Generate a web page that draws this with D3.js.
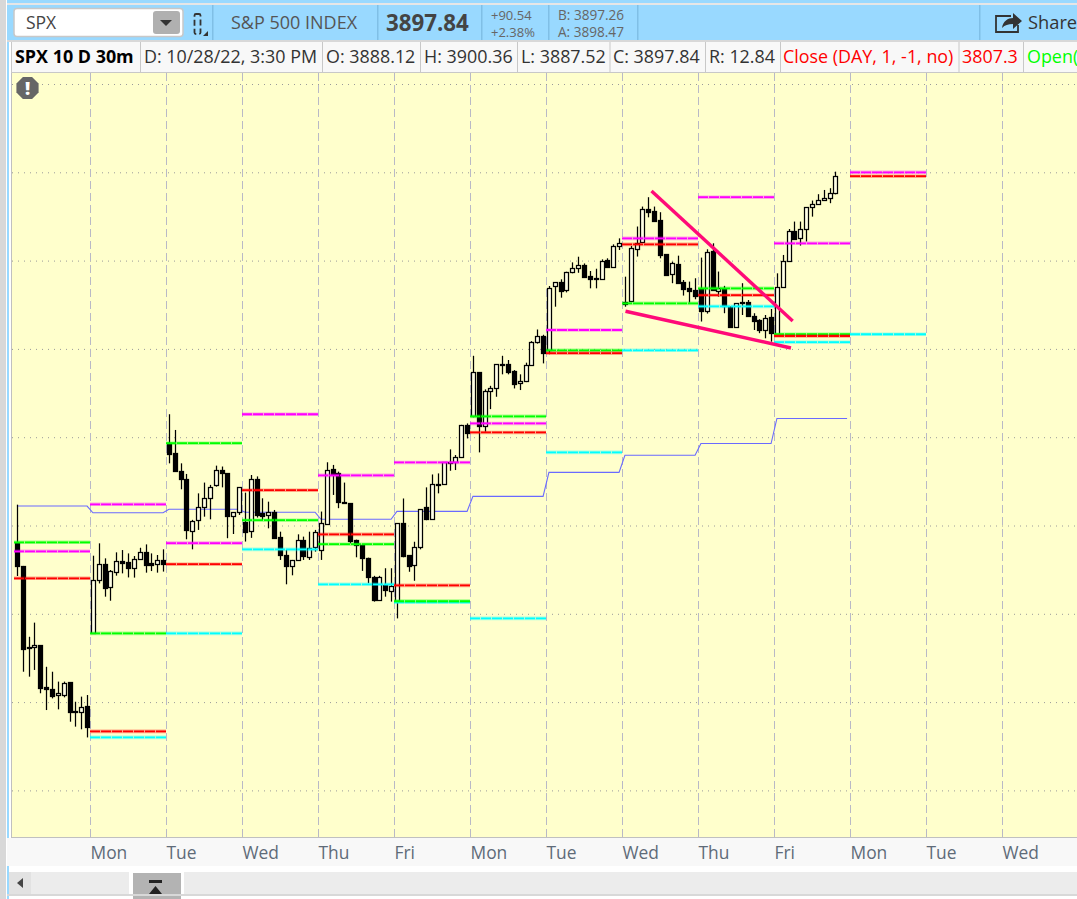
<!DOCTYPE html>
<html><head><meta charset="utf-8">
<script src="https://cdn.jsdelivr.net/npm/d3@7"></script>
<style>
html,body{margin:0;padding:0;background:#fff;overflow:hidden}
svg{display:block}
text{font-family:"Open Sans",sans-serif}
</style></head><body><svg id="c" width="1077" height="899"></svg>
<script>
// ---- data (prices) ----
const opens=[3689.9,3677.1,3631,3631,3632.1,3608.4,3607.2,3603.8,3604.2,3611.2,3595,3594.8,3597.6,
3639.3,3668.8,3678,3665,3673.9,3679.9,3679.3,3675.6,3680.7,3684.8,3678.8,3678.4,3680.5,
3746.6,3740.9,3730.9,3726.2,3697.1,3703,3710.3,3715.4,3722.6,3731.3,3729.6,3705,3707.5,
3702.2,3696.5,3726.2,3707.3,3706.4,3707.9,3693.3,3683.1,3676.9,3680.3,3691.6,3682.4,3687.5,
3686.2,3700.7,3731.8,3729.6,3713.2,3712.6,3691.6,3689,3681.4,3671,3658.2,3666.2,3663.1,
3656.8,3701.4,3683.3,3677.2,3687.6,3710.2,3703.6,3723.5,3723.1,3736.1,3735.9,3738.4,3756.9,
3761.8,3786.7,3755.9,3775.9,3777.6,3791.4,3791.4,3787.4,3780.3,3781.6,3790.7,3803.7,3807.3,
3799.3,3835.2,3837.7,3832.9,3843.1,3845.4,3847.5,3841.1,3839.9,3839.9,3850.3,3846.2,3857.9,
3825.5,3826.8,3857,3860.2,3879.1,3877.9,3872.8,3853.6,3842.1,3848.1,3837.9,3834.5,3833.4,
3834,3821.7,3855.5,3832.6,3833.8,3824,3812.2,3826.4,3826.4,3818.7,3816.2,3811.1,3817.9,
3808.3,3835.3,3850,3866.8,3862.5,3867.7,3880,3881.7,3884.2,3885.1,3888.12];
const highs=[3711.8,3677.1,3637,3645,3632.1,3620,3617.2,3611.6,3611.6,3611.2,3600.2,3603.1,3604,
3682.9,3689.9,3681.4,3674.8,3684.8,3686.1,3684.2,3682.7,3687.4,3689.3,3684.2,3683.3,3686.5,
3763,3754.1,3735.2,3729.2,3703.2,3718.2,3724.3,3723,3733.9,3733.4,3729.6,3707.5,3721.6,
3718.6,3728.6,3727.8,3715.4,3713.5,3708.8,3696.5,3686.2,3680.5,3695,3693.7,3696.5,3697.5,
3707.9,3735.8,3734.3,3730.5,3724.3,3712.6,3692,3689.4,3681.8,3671.5,3671.5,3675.8,3675.8,
3701.2,3715.3,3683.3,3690.8,3709.1,3721.6,3728.9,3729.5,3735.7,3743.1,3739.9,3757,3757.8,
3796.1,3786.7,3777.1,3779.1,3791.4,3796.1,3793.7,3788,3785.6,3792.2,3804.4,3811,3808,
3835.6,3837.7,3839.4,3843.7,3849,3852.2,3848.4,3844.1,3845.4,3850.7,3851.3,3859.2,3862.6,
3840.9,3858.3,3869.3,3880.6,3885.9,3880.6,3877.4,3853.6,3849.4,3852.8,3839,3838.1,3840,
3851.7,3856.4,3859.8,3843.8,3835.7,3824,3826,3837.2,3827.7,3820.2,3816.8,3819.2,3822.6,
3842.8,3853.2,3867.9,3872.1,3872.1,3880.2,3884,3887.6,3890,3891,3900.36];
const lows=[3671.4,3617.2,3614.4,3618.2,3605,3595.5,3602.1,3595.9,3602.7,3588.9,3586.1,3584.6,3580,
3638.9,3667.2,3659.7,3657.4,3671.6,3672.9,3670.6,3670.5,3680.5,3673.3,3674.2,3673.3,3673.9,
3735.2,3730.5,3720.5,3692.2,3686.5,3697.5,3705,3703.5,3722,3721.6,3692.8,3695.2,3706,
3690.9,3693,3704.5,3703.1,3698.4,3693,3680.5,3666.7,3671.8,3680.1,3680.5,3680.5,3685.2,
3680.5,3700.3,3717.3,3709.8,3712.2,3689.9,3682,3674.3,3667.3,3656.9,3657.3,3659.7,3656.9,
3647.4,3682,3673.8,3668.7,3686.5,3703,3703.4,3718.2,3723,3731,3731.4,3738.2,3749.3,
3761.3,3741.4,3753.1,3765.9,3772.9,3785.6,3785.6,3777.6,3776.7,3781.2,3790.4,3803,3791.8,
3797,3823.9,3829,3832,3842.8,3843.1,3840.5,3834.3,3834.3,3839.6,3846.2,3846,3856,
3823.9,3826.5,3852.3,3860,3874.5,3872.1,3851.3,3841.3,3837.2,3837.2,3830.2,3826.2,3828.1,
3815.5,3820,3833,3829.6,3820.2,3812.5,3812,3819.2,3818.2,3810.7,3808.9,3806,3804.1,
3808.2,3835,3849.4,3861.7,3858.5,3860.8,3874.9,3881.5,3884,3882.5,3887.52];
const closes=[3677.1,3630.3,3630.3,3632.1,3608,3607,3603.5,3605,3611,3594,3594.2,3597.4,3585.5,
3669.1,3678,3664.2,3674.2,3679.9,3679,3676.1,3680.8,3684.8,3677.3,3677.8,3680.5,3678.4,
3740.5,3730.5,3726.4,3697.1,3702.8,3710.3,3715.4,3721.6,3731.3,3729.6,3705,3707.5,3721.6,
3696.5,3726.2,3705.6,3705.6,3707.9,3693.3,3683.1,3676.7,3680.3,3691.6,3682.4,3687.5,3696.2,
3701.3,3731.3,3729.2,3713,3712.4,3691.1,3688.6,3681.8,3670.5,3657.9,3671,3663.1,3665.8,
3701.2,3682.9,3677.2,3687.6,3709.1,3703.6,3723.3,3723.2,3735.7,3735.7,3738.6,3756.7,3752.5,
3786.7,3755.9,3775.9,3777.6,3791.2,3791,3786.9,3780.3,3781.6,3790.7,3803.7,3807.3,3797.5,
3834.3,3837.7,3832.4,3843.3,3845.6,3847.3,3840.9,3839.6,3839.9,3849.9,3846.5,3858.2,3859.8,
3826.8,3857,3860.2,3879.1,3877.6,3872.5,3853.2,3841.5,3848.5,3837.5,3834.1,3833,3830,
3821.7,3855.1,3833.4,3834.3,3824,3812.6,3825.8,3825.6,3818.3,3816,3810.7,3817.7,3808.9,
3835.3,3850,3866.8,3862.5,3867.7,3880.2,3881.9,3884.2,3885.5,3888.1,3897.84];

// daily study levels, one value per day column (null = not shown)
const priorClose=[3670.1,3583.4,3678.1,3720,3695,3666.1,3752.7,3797.6,3859.2,3830.4,3807.3,3897.8,null];
const dayOpen   =[3690.5,3638.9,3746.6,3703,3689.4,3657.2,3761.8,3799.2,3825.8,3834.3,3808.3,null,null];
const priorHigh =[3685.4,3712,3690,3763,3728.4,3735.7,3757.8,3810.7,3862.6,3885.9,3859.8,3900,null];
const priorLow  =[null,3580,3638.9,3686.5,3666.7,3656.5,3647.4,3741.4,3799.2,3824.1,3803.8,3808.3,null];
const blueStudy =[3711,3707.2,3709.2,3707.5,3703.5,3708,3716.5,3730.1,3739.8,3746.4,3760.6];

const dayNames=["Mon","Tue","Wed","Thu","Fri","Mon","Tue","Wed","Thu","Fri","Mon","Tue","Wed"];
const priceTicks=[3950,3900,3850,3800,3750,3700,3650,3600,3550];
const trendA=[[109.05,3889.4],[133.2,3815.8]];
const trendB=[[104.6,3821.3],[132.9,3800.5]];
const perDay=13;

// ---- layout ----
const svg=d3.select("#c");
const plot={l:12,r:1077,t:73,b:837};
const x=d3.scaleLinear().domain([0,perDay]).range([14,90]);
const y=d3.scaleLinear().domain([3900,3800]).range([172.3,348.9]);

// chrome
svg.append("rect").attr("width",1077).attr("height",899).attr("fill","#ffffff");
svg.append("rect").attr("x",0).attr("y",0).attr("width",6).attr("height",899).attr("fill","#d8d8d8");
svg.append("rect").attr("x",7).attr("y",0).attr("width",2).attr("height",899).attr("fill","#99d9ff");
svg.append("rect").attr("x",7).attr("y",0).attr("width",1070).attr("height",3).attr("fill","#99d9ff");
svg.append("rect").attr("x",7).attr("y",3).attr("width",1070).attr("height",2).attr("fill","#e6e6e6");
svg.append("rect").attr("x",7).attr("y",5).attr("width",1070).attr("height",35).attr("fill","#99d9ff");
svg.append("rect").attr("x",7).attr("y",40).attr("width",1070).attr("height",2).attr("fill","#d8d8d8");
[212,377,481,548,637,979].forEach(v=>svg.append("rect").attr("x",v).attr("y",5).attr("width",1.5).attr("height",35).attr("fill","#80bfe6"));

svg.append("rect").attr("x",14).attr("y",8.5).attr("width",169).attr("height",28).attr("rx",3).attr("fill","#fff").attr("stroke","#c8c8c8").attr("stroke-width",1.5);
svg.append("rect").attr("x",153).attr("y",11).attr("width",27).attr("height",23).attr("rx",3).attr("fill","#b0b0b0");
svg.append("path").attr("d","M160 20h12l-6 6z").attr("fill","#333");
svg.append("rect").attr("x",194.5).attr("y",14).attr("width",6).attr("height",20).attr("rx",1.5).attr("fill","none").attr("stroke","#333").attr("stroke-width",1.8).attr("stroke-dasharray","6 3");
svg.append("path").attr("d","M208 31v5h-5z").attr("fill","#333");
const T=(s,xp,yp,size,col,w)=>svg.append("text").attr("x",xp).attr("y",yp).attr("font-size",size).attr("fill",col).attr("font-weight",w||400).text(s);
T("SPX",26,29,17.5,"#444");
T("S&P 500 INDEX",231,29,18,"#555");
T("3897.84",386,31,22.3,"#444",700);
T("+90.54",491,20,13,"#666");
T("+2.38%",491,37,13,"#666");
T("B: 3897.26",558,20,13.6,"#666");
T("A: 3898.47",558,37,13.6,"#666");
svg.append("path").attr("d","M1011 16h-15v16h22v-7").attr("fill","none").attr("stroke","#333").attr("stroke-width",1.8);
svg.append("path").attr("d","M1002 28c1-7 6-10 11-10v-5l9 8-9 8v-5c-5 0-8 1-11 4z").attr("fill","#333");
T("Share",1028,29,18.3,"#333");

// study header
svg.append("rect").attr("x",11).attr("y",42).attr("width",1066).attr("height",31).attr("fill","#f8f8f8");
[11,140,322,420,517,609.5,705,780,958.5,1023].forEach(v=>svg.append("rect").attr("x",v).attr("y",42).attr("width",1).attr("height",31).attr("fill","#c8c8c8"));
T("SPX 10 D 30m",15,63,17.9,"#000",700);
T("D: 10/28/22, 3:30 PM",144,63,17.9,"#333");
T("O: 3888.12",326,63,17.9,"#333");
T("H: 3900.36",424,63,17.9,"#333");
T("L: 3887.52",521,63,17.9,"#333");
T("C: 3897.84",613,63,17.9,"#333");
T("R: 12.84",709,63,17.9,"#333");
T("Close (DAY, 1, -1, no)",783,63,17.9,"#ff0000");
T("3807.3",962,63,17.9,"#ff0000");
T("Open(",1027,63,17.9,"#00ff00");

// plot
svg.append("rect").attr("x",plot.l).attr("y",plot.t).attr("width",plot.r-plot.l).attr("height",plot.b-plot.t).attr("fill","#ffffcc");
svg.append("rect").attr("x",plot.l-1).attr("y",plot.t-1).attr("width",plot.r).attr("height",1).attr("fill","#c8c8c8");
svg.append("rect").attr("x",plot.l-1).attr("y",plot.t).attr("width",1).attr("height",plot.b-plot.t).attr("fill","#c0c0c0");
svg.append("rect").attr("x",plot.l-1).attr("y",plot.b).attr("width",plot.r).attr("height",1).attr("fill","#c0c0c0");
svg.append("rect").attr("x",7).attr("y",plot.b+1).attr("width",1070).attr("height",28).attr("fill","#f8f8f8");

// price grid through a hidden-label axis
const gridG=svg.append("g").attr("transform",`translate(${plot.l},0)`)
  .call(d3.axisLeft(y).tickValues(priceTicks).tickSize(-(plot.r-plot.l)).tickFormat(""));
gridG.select(".domain").remove();
gridG.selectAll("line").attr("stroke","#9a9a9a").attr("stroke-width",1).attr("stroke-dasharray","1 5");

// day axis
const dayIdx=dayNames.map((d,i)=>(i+1)*perDay);
const xAxis=d3.axisBottom(x).tickValues(dayIdx).tickSize(plot.t-plot.b).tickFormat((d,i)=>dayNames[i]);
const axG=svg.append("g").attr("transform",`translate(0,${plot.b})`).call(xAxis);
axG.select(".domain").remove();
axG.selectAll("line").attr("stroke","#b9b9c6").attr("stroke-width",1).attr("stroke-dasharray","8 4");
axG.selectAll("text").attr("text-anchor","start").attr("font-size",17.4).attr("fill","#5f6b78")
   .attr("font-family","'Open Sans',sans-serif").attr("y",0).attr("dy",0)
   .attr("transform","translate(0,22)");

// blue study
const bluePts=[];
blueStudy.forEach((v,d)=>{bluePts.push([d*perDay+0.5,v]);bluePts.push([d*perDay+perDay-0.5,v]);});
svg.append("path").attr("d",d3.line().x(d=>x(d[0])).y(d=>y(d[1]))(bluePts))
  .attr("fill","none").attr("stroke","#6a6aff").attr("stroke-width",1.1);

// candles
const candles=opens.map((o,i)=>({i,o,h:highs[i],l:lows[i],c:closes[i]}));
const cg=svg.append("g").selectAll("g").data(candles).join("g");
const px=v=>Math.round(v)+0.5;
cg.append("line")
  .attr("x1",d=>px(x(d.i+0.5))).attr("x2",d=>px(x(d.i+0.5)))
  .attr("y1",d=>y(d.h)).attr("y2",d=>y(d.l)).attr("stroke","#000").attr("stroke-width",1.25);
cg.append("rect")
  .attr("x",d=>px(x(d.i+0.5))-2)
  .attr("width",4)
  .attr("y",d=>Math.round(y(Math.max(d.o,d.c)))+0.5)
  .attr("height",d=>Math.max(1,Math.round(Math.abs(y(d.o)-y(d.c)))))
  .attr("fill",d=>d.c>=d.o?"#ffffe6":"#000")
  .attr("stroke","#000").attr("stroke-width",1.25);

// level lines
function levels(arr,col){
  const dat=arr.map((v,d)=>({v,d})).filter(e=>e.v!==null);
  svg.append("g").selectAll("line").data(dat).join("line")
    .attr("x1",e=>x(e.d*perDay)).attr("x2",e=>x((e.d+1)*perDay))
    .attr("y1",e=>y(e.v)).attr("y2",e=>y(e.v))
    .attr("stroke",col).attr("stroke-width",3.6).attr("stroke-opacity",0.35);
  svg.append("g").selectAll("line").data(dat).join("line")
    .attr("x1",e=>x(e.d*perDay)).attr("x2",e=>x((e.d+1)*perDay))
    .attr("y1",e=>y(e.v)).attr("y2",e=>y(e.v))
    .attr("stroke",col).attr("stroke-width",1.8).attr("stroke-dasharray","10 1");
}
levels(priorLow,"#00ffff");
levels(priorHigh,"#ff00ff");
levels(dayOpen,"#00ff00");
levels(priorClose,"#ff0000");

// drawn trendlines
[trendA,trendB].forEach(t=>svg.append("line")
  .attr("x1",x(t[0][0])).attr("y1",y(t[0][1])).attr("x2",x(t[1][0])).attr("y2",y(t[1][1]))
  .attr("stroke","#ff0a78").attr("stroke-width",3.4));

// alert badge
svg.append("path").attr("d",d3.line()(d3.range(8).map(k=>{const a=Math.PI/8+k*Math.PI/4;return [27.5+12*Math.cos(a),88+12*Math.sin(a)];}))+"Z").attr("fill","#666");
svg.append("text").attr("x",27.5).attr("y",94.5).attr("text-anchor","middle").attr("font-size",18).attr("font-weight",800).attr("fill","#fff").text("!");

// scrollbar
svg.append("rect").attr("x",9).attr("y",871).attr("width",1068).attr("height",23).attr("fill","#fff");
svg.append("rect").attr("x",9).attr("y",872).attr("width",120).attr("height",22).attr("fill","#ececec");
svg.append("rect").attr("x",9).attr("y",872).attr("width",22).attr("height",22).attr("fill","#e2e2e2");
svg.append("path").attr("d","M17 883l6-5v10z").attr("fill","#444");
svg.append("rect").attr("x",184).attr("y",872).attr("width",893).attr("height",22).attr("fill","#ececec");
svg.append("rect").attr("x",133).attr("y",873).attr("width",48).attr("height",26).attr("fill","#b3b3b3");
svg.append("rect").attr("x",149).attr("y",880).attr("width",13).attr("height",3).attr("fill","#222");
svg.append("path").attr("d","M149 894l6.5-8 6.5 8z").attr("fill","#222");
svg.append("rect").attr("x",7).attr("y",894).attr("width",1070).attr("height",2).attr("fill","#d8d8d8");
</script></body></html>
